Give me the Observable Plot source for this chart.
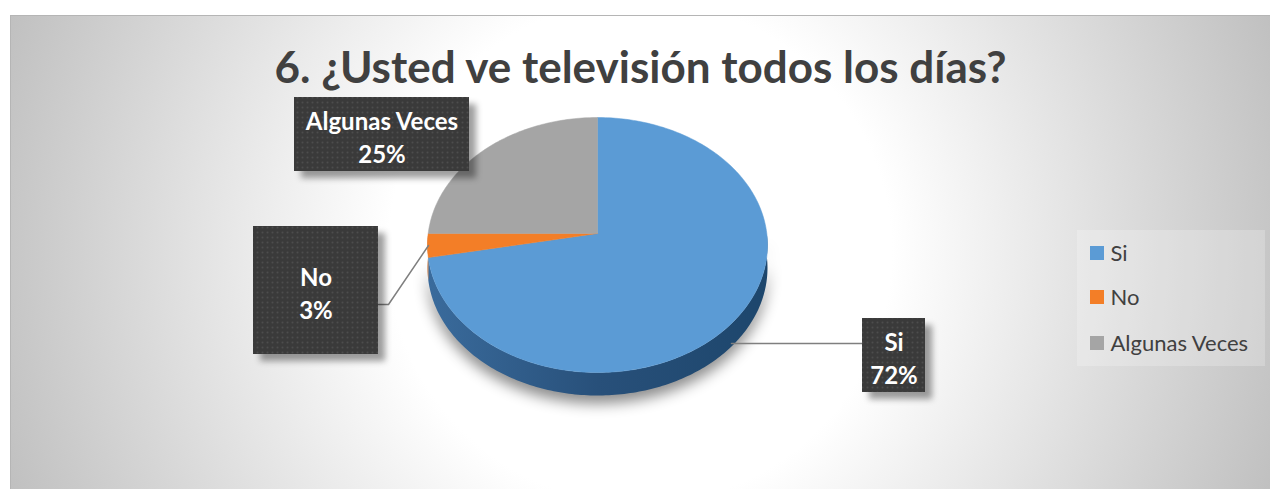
<!DOCTYPE html>
<html lang="es">
<head>
<meta charset="utf-8">
<script src="https://cdn.jsdelivr.net/npm/d3@7"></script>
<script src="https://cdn.jsdelivr.net/npm/@observablehq/plot@0.6"></script>
<style>
html,body{margin:0;padding:0;background:#fff;}
#frame{position:absolute;left:10px;top:15px;width:1260px;height:474px;
  box-shadow:inset 1px 1px 0 #b5b5b5;
  background:radial-gradient(circle 680px at 630px 237px,#fff 37%,#bfbfbf 100%);}
#chart{position:absolute;left:0;top:0;}
</style>
</head>
<body>
<div id="frame"></div>
<div id="chart"></div>
<script>
const chartTitle = "6. ¿Usted ve televisión todos los días?";
const categories = ["Si", "No", "Algunas Veces"];
const percents = [72, 3, 25];
const colors = ["#5b9bd5", "#f37e27", "#a5a5a5"];

// Layout (pixels of the 1270x489 page, the x and y scales are page coordinates)
const FONT = "Lato, 'Open Sans', sans-serif";
const pie = {cx: 597, apexY: 233, top: 117, bottom: 372, halfWidth: 170, depth: 23};
const boxes = [
  {name: "Si", x1: 862, x2: 925, y1: 318, y2: 392},
  {name: "No", x1: 253, x2: 378, y1: 226, y2: 354},
  {name: "Algunas Veces", x1: 294, x2: 469, y1: 97, y2: 171}
];
const leaders = [
  {name: "Si", path: [[731, 343], [862, 343]]},
  {name: "No", path: [[378, 304], [388, 304], [428, 245]]}
];
const legendRows = [253, 297, 343];

// Perspective projection of the tilted circle: the centre of the circle lands on the apex.
const c = ((pie.top + pie.bottom) - 2 * pie.apexY) / (pie.top - pie.bottom);
const a = pie.apexY - pie.top + pie.top * c;
const d = pie.halfWidth * Math.sqrt(1 - c * c);
function project(theta, lift = 0) {
  const ux = Math.sin(theta), uy = -Math.cos(theta), w = 1 + c * uy;
  return {x: pie.cx + d * ux / w, y: (a * uy + pie.apexY) / w + lift};
}
const arcs = d3.pie().sort(null)(percents);
function sweep(start, end, lift, reverse) {
  const n = Math.max(2, Math.ceil((end - start) * 60));
  const out = d3.range(n + 1).map(i => project(start + (end - start) * i / n, lift));
  return reverse ? out.reverse() : out;
}
const faces = [], walls = [];
arcs.forEach((arc, i) => {
  const name = categories[i];
  faces.push({name, x: pie.cx, y: pie.apexY});
  sweep(arc.startAngle, arc.endAngle, 0).forEach(p => faces.push({name, ...p}));
  faces.push({name, x: pie.cx, y: pie.apexY});
  const s = Math.max(arc.startAngle, Math.PI / 2), e = Math.min(arc.endAngle, 3 * Math.PI / 2);
  if (e > s) {
    sweep(s, e, 0).forEach(p => walls.push({name, ...p}));
    sweep(s, e, pie.depth, true).forEach(p => walls.push({name, ...p}));
  }
});
const withFilter = f => (i, s, v, dm, ctx, next) => {
  const g = next(i, s, v, dm, ctx);
  g.style.filter = f;
  return g;
};
const labelRows = boxes.map(b => ({...b, text: `${b.name}\n${percents[categories.indexOf(b.name)]}%`}));
const legendData = categories.map((name, i) => ({name, row: legendRows[i]}));

const plot = Plot.plot({
  width: 1270, height: 489,
  margin: 0,
  style: {background: "transparent", overflow: "visible"},
  x: {domain: [0, 1270], range: [0, 1270], axis: null},
  y: {domain: [0, 489], range: [0, 489], axis: null},
  color: {domain: categories, range: colors},
  marks: [
    Plot.text([chartTitle], {x: 640, y: 68, text: d => d, fontSize: 44, fontWeight: 700,
      fontFamily: FONT, fill: "#404040", textAnchor: "middle"}),
    Plot.line(walls.filter(p => p.name === "Si"), {x: "x", y: "y", fill: "url(#wallGrad)", stroke: "none",
      render: withFilter("drop-shadow(0 8px 7px rgba(0,0,0,.45))")}),
    Plot.line(walls.filter(p => p.name !== "Si"), {x: "x", y: "y", z: "name", fill: "#b3581a", stroke: "none"}),
    Plot.line(faces, {x: "x", y: "y", z: "name", fill: "name", stroke: "name", strokeWidth: 0.5}),
    ...leaders.map(l => Plot.line(l.path, {x: p => p[0], y: p => p[1], stroke: "#7f7f7f", strokeWidth: 1.5})),
    Plot.rect(labelRows, {x1: "x1", x2: "x2", y1: "y1", y2: "y2", fill: "url(#dots)",
      render: withFilter("drop-shadow(7px 7px 3px rgba(0,0,0,.38))")}),
    Plot.text(labelRows, {x: b => (b.x1 + b.x2) / 2, y: b => (b.y1 + b.y2) / 2 + 1, text: "text",
      fontSize: 24, fontWeight: 700, lineHeight: 1.375, fontFamily: FONT, fill: "#fff"}),
    Plot.rect([0], {x1: 1077, x2: 1265, y1: 230, y2: 366, fill: "#fff", fillOpacity: 0.22}),
    Plot.rect(legendData, {x1: 1090, x2: 1104, y1: d => d.row - 7, y2: d => d.row + 7, fill: "name"}),
    Plot.text(legendData, {x: 1110, y: "row", text: "name", textAnchor: "start", fontSize: 22,
      fontFamily: FONT, fill: "#404040"})
  ]
});

const svg = d3.select(plot);
const defs = svg.insert("defs", ":first-child");
const dots = defs.append("pattern").attr("id", "dots").attr("patternUnits", "userSpaceOnUse")
  .attr("width", 5).attr("height", 5);
dots.append("rect").attr("width", 5).attr("height", 5).attr("fill", "#3a3a3a");
dots.append("circle").attr("cx", 2.5).attr("cy", 2.5).attr("r", 1).attr("fill", "#4d4d4d");
const wg = defs.append("linearGradient").attr("id", "wallGrad");
wg.append("stop").attr("offset", "0").attr("stop-color", "#3a6b9c");
wg.append("stop").attr("offset", "0.5").attr("stop-color", "#28507a");
wg.append("stop").attr("offset", "1").attr("stop-color", "#1d466c");
document.getElementById("chart").append(plot);
</script>
</body>
</html>
